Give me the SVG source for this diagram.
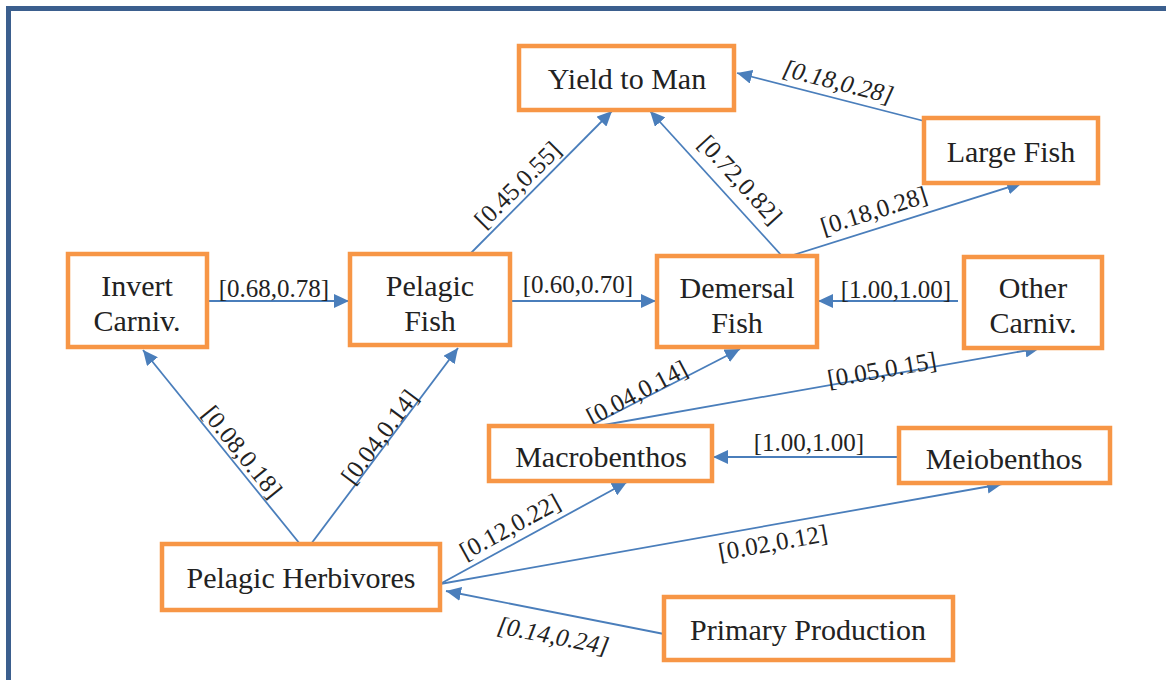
<svg xmlns="http://www.w3.org/2000/svg" width="1166" height="680" viewBox="0 0 1166 680">
<style>
.node{fill:#fff;stroke:#F79646;stroke-width:4.5}
.nt{font-family:'Liberation Serif','Times New Roman',Times,'DejaVu Serif',serif;font-size:30px;fill:#222;text-anchor:middle}
.edge{fill:none;stroke:#4A7EBB;stroke-width:1.8;marker-end:url(#ah)}
.lb{font-family:'Liberation Serif','Times New Roman',Times,'DejaVu Serif',serif;font-size:25px;fill:#222;text-anchor:middle}
.it{font-style:italic}
</style>
<defs>
<marker id="ah" markerUnits="userSpaceOnUse" markerWidth="16" markerHeight="14" refX="15" refY="7" orient="auto">
<path d="M0,0 L15,7 L0,14 z" fill="#4A7EBB"/>
</marker>
</defs>
<rect x="8.5" y="8.5" width="1180" height="700" fill="#fff" stroke="#3B5F8E" stroke-width="5"/>
<g id="connectors">
<line class="edge" x1="207" y1="301" x2="349" y2="301"/>
<line class="edge" x1="510" y1="301" x2="656" y2="301"/>
<line class="edge" x1="958" y1="301" x2="818" y2="301"/>
<line class="edge" x1="899" y1="457" x2="713" y2="457"/>
<line class="edge" x1="470" y1="254" x2="612" y2="111"/>
<line class="edge" x1="782" y1="256" x2="650" y2="111"/>
<line class="edge" x1="924" y1="121" x2="737" y2="73"/>
<line class="edge" x1="790" y1="256" x2="1022" y2="183"/>
<line class="edge" x1="300" y1="544" x2="143" y2="350"/>
<line class="edge" x1="311" y1="544" x2="458" y2="348"/>
<line class="edge" x1="590" y1="426" x2="740" y2="349"/>
<line class="edge" x1="598" y1="426" x2="1040" y2="348"/>
<line class="edge" x1="440" y1="584" x2="627" y2="482"/>
<line class="edge" x1="440" y1="584" x2="1002" y2="484"/>
<line class="edge" x1="664" y1="634" x2="446" y2="591"/>
<text class="lb" x="274" y="297">[0.68,0.78]</text>
<text class="lb" x="578" y="293">[0.60,0.70]</text>
<text class="lb" x="896" y="298">[1.00,1.00]</text>
<text class="lb" x="809" y="451">[1.00,1.00]</text>
<text class="lb" transform="translate(518,185) rotate(-45)" y="8">[0.45,0.55]</text>
<text class="lb" transform="translate(740,180) rotate(47.5)" y="8">[0.72,0.82]</text>
<text class="lb it" transform="translate(838,82) rotate(14.4)" y="8">[0.18,0.28]</text>
<text class="lb" transform="translate(874,211) rotate(-17.5)" y="8">[0.18,0.28]</text>
<text class="lb" transform="translate(242,452) rotate(51)" y="8">[0.08,0.18]</text>
<text class="lb" transform="translate(380,437) rotate(-53)" y="8">[0.04,0.14]</text>
<text class="lb" transform="translate(637,393) rotate(-27.8)" y="8">[0.04,0.14]</text>
<text class="lb" transform="translate(882,370) rotate(-10)" y="8">[0.05,0.15]</text>
<text class="lb" transform="translate(510,527) rotate(-28.8)" y="8">[0.12,0.22]</text>
<text class="lb" transform="translate(773,543) rotate(-10.2)" y="8">[0.02,0.12]</text>
<text class="lb it" transform="translate(553,636) rotate(11.1)" y="8">[0.14,0.24]</text>
</g>
<g id="yield"><rect class="node" x="519" y="46" width="215" height="64"/><text class="nt" x="627" y="89">Yield to Man</text></g>
<g id="largefish"><rect class="node" x="924" y="118" width="174" height="65"/><text class="nt" x="1011" y="162">Large Fish</text></g>
<g id="invert"><rect class="node" x="68" y="254" width="139" height="93"/><text class="nt" x="137" y="296">Invert</text><text class="nt" x="137" y="331">Carniv.</text></g>
<g id="pelagic"><rect class="node" x="350" y="254" width="160" height="91"/><text class="nt" x="430" y="296">Pelagic</text><text class="nt" x="430" y="331">Fish</text></g>
<g id="demersal"><rect class="node" x="657" y="256" width="160" height="91"/><text class="nt" x="737" y="298">Demersal</text><text class="nt" x="737" y="333">Fish</text></g>
<g id="other"><rect class="node" x="964" y="257" width="138" height="91"/><text class="nt" x="1033" y="298">Other</text><text class="nt" x="1033" y="333">Carniv.</text></g>
<g id="macro"><rect class="node" x="489" y="426" width="223" height="55"/><text class="nt" x="601" y="467">Macrobenthos</text></g>
<g id="meio"><rect class="node" x="899" y="428" width="211" height="55"/><text class="nt" x="1004" y="469">Meiobenthos</text></g>
<g id="herb"><rect class="node" x="162" y="544" width="278" height="66"/><text class="nt" x="301" y="588">Pelagic Herbivores</text></g>
<g id="primary"><rect class="node" x="664" y="597" width="289" height="63"/><text class="nt" x="808" y="640">Primary Production</text></g>
</svg>
